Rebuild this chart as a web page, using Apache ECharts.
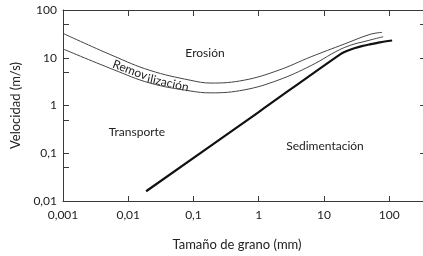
<!DOCTYPE html>
<html>
<head>
<meta charset="utf-8">
<script src="https://cdn.jsdelivr.net/npm/echarts@6/dist/echarts.min.js"></script>
<style>
  html, body { margin: 0; padding: 0; background: #fff; }
  #main { width: 423px; height: 256px; }
</style>
</head>
<body>
<div id="main"></div>
<script>
// tamaño de grano (mm) / velocidad (m/s)
var erosionX = [0.001, 0.00585, 0.0216, 0.0887, 0.186, 0.597, 1.98, 6.36, 20.4, 51, 78];
var erosionY = [32.4, 11, 5.43, 3.39, 2.95, 3.39, 5.43, 10.5, 19.3, 30.9, 34];

var removX = [0.001, 0.00585, 0.0216, 0.0887, 0.186, 0.597, 1.98, 6.36, 20.4, 51, 81];
var removY = [15.3, 5.69, 2.95, 2.02, 1.84, 2.12, 3.39, 6.87, 16.3, 23.5, 27.5];

var sedX = [0.0188, 1, 18.2, 24, 30, 38, 50, 72, 111];
var sedY = [0.016, 0.73, 12.1, 14.4, 16, 17.5, 19, 21, 23];

var xTicks = [0.001, 0.01, 0.1, 1, 10, 100];
var yTicks = [0.01, 0.1, 1, 10, 100];
var yMinorTicks = [0.05, 0.1, 0.5, 1, 5, 10, 50];

function pares(xs, ys) {
  return xs.map(function (x, i) { return [x, ys[i]]; });
}
function coma(v) {
  return String(v).replace('.', ',');
}

var fuente = 'Lato, "Open Sans", sans-serif';
var gris = '#3a3a3a';
var txt = '#222';

function rotulo(texto, x, y, rot) {
  return {
    type: 'text', x: x, y: y, rotation: rot || 0,
    style: { text: texto, font: '12px ' + fuente, fill: txt, align: 'center', verticalAlign: 'middle' }
  };
}

var option = {
  animation: false,
  backgroundColor: '#fff',
  textStyle: { fontFamily: fuente },
  grid: { left: 63, right: 0, top: 10, bottom: 50 },
  xAxis: [
    {
      type: 'log', min: 0.001, max: 330, position: 'bottom',
      name: 'Tamaño de grano (mm)', nameLocation: 'middle', nameGap: 37,
      nameTextStyle: { fontSize: 13, color: txt, fontFamily: fuente, padding: [0, 12, 0, 0] },
      axisLine: { lineStyle: { color: gris, width: 1 } },
      axisTick: { inside: true, length: 5, customValues: xTicks.slice(1), lineStyle: { color: gris } },
      axisLabel: { customValues: xTicks, formatter: coma, fontSize: 12, color: txt, margin: 8, fontFamily: fuente },
      splitLine: { show: false }, minorTick: { show: false }
    },
    {
      type: 'log', min: 0.001, max: 330, position: 'top',
      axisLine: { lineStyle: { color: gris, width: 1 } },
      axisTick: { inside: true, length: 6, customValues: xTicks.slice(1), lineStyle: { color: gris } },
      axisLabel: { show: false },
      splitLine: { show: false }
    }
  ],
  yAxis: [
    {
      type: 'log', min: 0.01, max: 100, position: 'left',
      name: 'Velocidad (m/s)', nameLocation: 'middle', nameGap: 37,
      nameTextStyle: { fontSize: 13, color: txt, fontFamily: fuente },
      axisLine: { show: true, lineStyle: { color: gris, width: 1 } },
      axisTick: { show: true, inside: true, length: 6, customValues: yMinorTicks, lineStyle: { color: gris } },
      axisLabel: { customValues: yTicks, formatter: coma, fontSize: 12, color: txt, margin: 6, fontFamily: fuente },
      splitLine: { show: false }
    },
    {
      type: 'log', min: 0.01, max: 100, position: 'right',
      axisLine: { show: true, lineStyle: { color: gris, width: 1 } },
      axisTick: { show: true, inside: true, length: 3, customValues: [0.1, 1, 10, 50], lineStyle: { color: gris } },
      axisLabel: { show: false },
      splitLine: { show: false }
    }
  ],
  series: [
    {
      name: 'Erosión', type: 'line', smooth: 0.4, symbol: 'none',
      data: pares(erosionX, erosionY),
      lineStyle: { color: '#444', width: 1 }
    },
    {
      name: 'Removilización', type: 'line', smooth: 0.4, symbol: 'none',
      data: pares(removX, removY),
      lineStyle: { color: '#444', width: 1 }
    },
    {
      name: 'Sedimentación', type: 'line', smooth: 0.3, symbol: 'none',
      data: pares(sedX, sedY),
      lineStyle: { color: '#111', width: 2.2 }
    }
  ],
  graphic: [
    rotulo('Erosión', 205, 53),
    rotulo('Remov', 130, 70, -0.36),
    rotulo('ilización', 168, 83, -0.22),
    rotulo('Transporte', 137, 132),
    rotulo('Sedimentación', 325, 146)
  ]
};

var chart = echarts.init(document.getElementById('main'), null, { renderer: 'canvas' });
chart.setOption(option);
</script>
</body>
</html>
